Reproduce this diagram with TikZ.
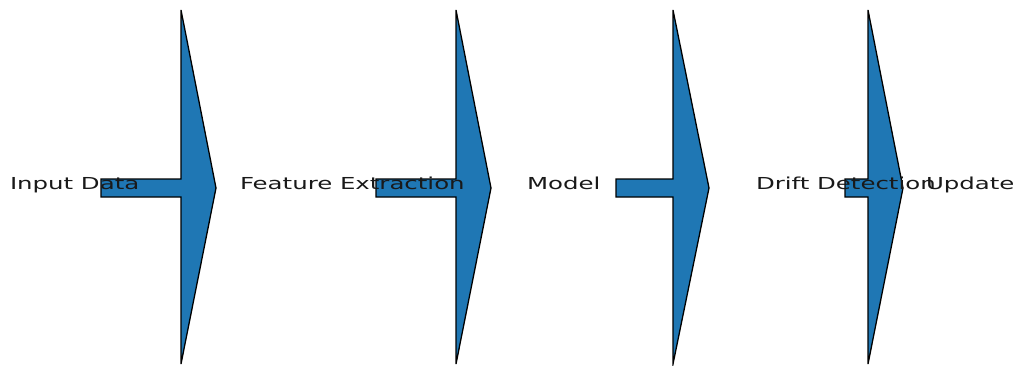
\documentclass[tikz,border=0pt]{standalone}
\usepackage{fontspec}
\setmainfont{DejaVu Sans}
\definecolor{mplblue}{HTML}{1F77B4}
\begin{document}
\begin{tikzpicture}[x=1pt,y=-1pt,
  bigarrow/.style={fill=mplblue,draw=black,line width=1.3pt,line join=miter},
  lbl/.style={anchor=base west,inner sep=0pt,outer sep=0pt,text=black!90}]
\useasboundingbox (0,0) rectangle (1018,365);
\newcommand{\bigarr}[3]{% shaft left, head base, tip
  \draw[bigarrow] (#1,179) -- (#2,179) -- (#2,10) -- (#3,188) -- (#2,364) -- (#2,197) -- (#1,197) -- cycle;}
\bigarr{101}{181}{216}
\bigarr{376}{456}{491}
\bigarr{616}{673}{709}
\bigarr{845}{868}{903}
\newcommand{\lbltxt}[1]{\scalebox{1.48}[1]{\fontsize{16.5}{19}\selectfont #1}}
\node[lbl] (l1) at (10,189) {\lbltxt{Input Data}};
\node[lbl] (l2) at (240,189) {\lbltxt{Feature Extraction}};
\node[lbl] (l3) at (527,189) {\lbltxt{Model}};
\node[lbl] (l4) at (756,189) {\lbltxt{Drift Detection}};
\node[lbl] (l5) at (926,189) {\lbltxt{Update}};
\end{tikzpicture}
\end{document}
